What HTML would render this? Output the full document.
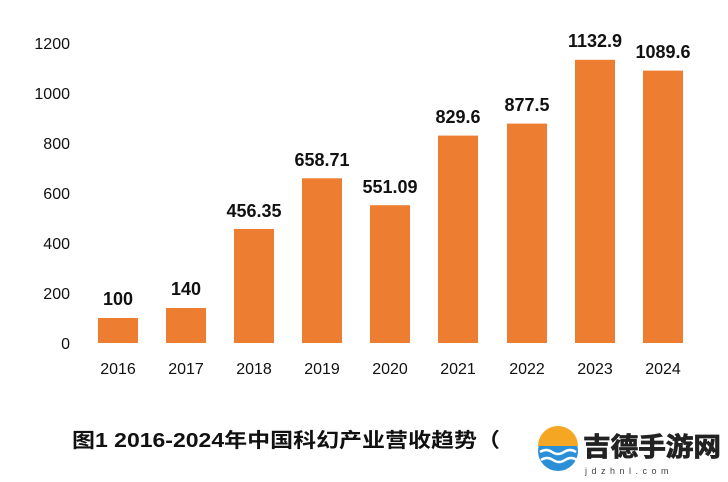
<!DOCTYPE html><html><head><meta charset="utf-8"><style>body{margin:0;background:#fff}</style></head><body>
<svg width="728" height="477" xmlns="http://www.w3.org/2000/svg" font-family="Liberation Sans, Noto Sans CJK SC, sans-serif">
<rect width="728" height="477" fill="#fff"/>
<g font-size="16" fill="#111" text-anchor="end">
<text x="70" y="349">0</text><text x="70" y="299">200</text><text x="70" y="249">400</text><text x="70" y="199">600</text><text x="70" y="149">800</text><text x="70" y="99">1000</text><text x="70" y="49">1200</text>
</g>
<g fill="#ED7D31">
<rect x="98" y="318" width="40" height="25"/>
<rect x="166" y="308" width="40" height="35"/>
<rect x="234" y="229" width="40" height="114"/>
<rect x="302" y="178.3" width="40" height="164.7"/>
<rect x="370" y="205.2" width="40" height="137.8"/>
<rect x="438" y="135.6" width="40" height="207.4"/>
<rect x="507" y="123.6" width="40" height="219.4"/>
<rect x="575" y="59.8" width="40" height="283.2"/>
<rect x="643" y="70.6" width="40" height="272.4"/>
</g>
<g font-size="18" font-weight="bold" fill="#111" text-anchor="middle">
<text x="118" y="305">100</text><text x="186" y="295">140</text><text x="254" y="217">456.35</text><text x="322" y="166">658.71</text><text x="390" y="193">551.09</text><text x="458" y="123">829.6</text><text x="527" y="111">877.5</text><text x="595" y="47">1132.9</text><text x="663" y="58">1089.6</text>
</g>
<g font-size="16" fill="#111" text-anchor="middle">
<text x="118" y="374">2016</text><text x="186" y="374">2017</text><text x="254" y="374">2018</text><text x="322" y="374">2019</text><text x="390" y="374">2020</text><text x="458" y="374">2021</text><text x="527" y="374">2022</text><text x="595" y="374">2023</text><text x="663" y="374">2024</text>
</g>
<text x="72" y="447" font-size="20" font-weight="bold" fill="#111" textLength="428" lengthAdjust="spacingAndGlyphs">图1 2016-2024年中国科幻产业营收趋势（</text>
<circle cx="558" cy="451" r="20" fill="#2a8fd6"/>
<path d="M538 446 A20 20 0 0 1 578 446 Z" fill="#f5a623"/>
<path d="M540 452 q6 -4 12 0 t12 0 t12 0" stroke="#fff" stroke-width="2.5" fill="none"/>
<path d="M541 460 q6 -4 12 0 t12 0 t12 0" stroke="#fff" stroke-width="2.5" fill="none"/>
<text x="583" y="456" font-size="26" font-weight="bold" fill="#222" stroke="#222" stroke-width="0.8" textLength="138" lengthAdjust="spacingAndGlyphs">吉德手游网</text>
<text x="585" y="474" font-size="9" fill="#444" letter-spacing="4.5">jdzhnl.com</text>
</svg>
</body></html>
